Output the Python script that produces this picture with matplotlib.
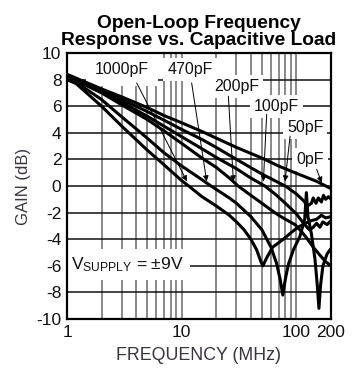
import matplotlib
matplotlib.use("Agg")
import matplotlib.pyplot as plt
from matplotlib.ticker import NullLocator

plt.rcParams["font.family"] = ["Liberation Sans", "DejaVu Sans"]
plt.rcParams["mathtext.fontset"] = "custom"
plt.rcParams["mathtext.rm"] = "Liberation Sans"
plt.rcParams["mathtext.it"] = "Liberation Sans:italic"
plt.rcParams["axes.unicode_minus"] = False

# gain curves (MHz, dB) for each load capacitance
freq_0pF = [1, 2, 3, 5, 7, 10, 15, 20, 30, 50, 70, 100, 150, 200]
gain_0pF = [8.4, 7.3, 6.7, 5.9, 5.3, 4.75, 4.1, 3.6, 2.9, 2.1, 1.5, 0.95, 0.35, -0.2]

freq_50pF = [1, 2, 3, 5, 7, 10, 15, 20, 30, 50, 70, 80, 100, 115, 125,
             135, 140, 148, 155, 165, 172, 180, 190, 200]
gain_50pF = [8.35, 7.2, 6.5, 5.6, 4.95, 4.25, 3.5, 2.9, 2.0, 0.9, 0.25, 0.0, -0.6, -1.1, -1.5,
             -1.3, -0.9, -1.3, -0.9, -1.2, -0.7, -1.0, -0.8, -1.0]

freq_100pF = [1, 2, 3, 5, 7, 10, 15, 20, 30, 40, 53, 65, 80, 100, 115,
              130, 140, 150, 160, 170, 185, 200]
gain_100pF = [8.3, 7.1, 6.3, 5.25, 4.5, 3.7, 2.8, 2.15, 1.3, 0.6, 0.0, -0.6, -1.3, -2.1, -2.8,
              -3.3, -3.1, -2.8, -3.1, -2.7, -2.9, -2.6]

freq_200pF = [1, 2, 3, 5, 7, 10, 15, 20, 26, 31, 40, 50, 60, 70, 80,
              97, 110, 125, 140, 160, 180, 200]
gain_200pF = [8.25, 7.0, 6.1, 5.0, 4.15, 3.2, 2.1, 1.4, 0.6, 0.0, -0.7, -1.3, -1.8, -2.2, -2.5,
              -2.9, -3.4, -4.0, -4.6, -5.2, -5.7, -6.0]

freq_470pF = [1, 1.2, 2, 3, 5, 7, 10, 14, 18, 26, 30, 40, 50, 60, 67, 72,
              76, 80, 85, 94, 107, 118, 122, 126, 135, 145, 152, 157, 162, 170, 185, 200]
gain_470pF = [8.0, 7.8, 6.5, 5.2, 3.6, 2.5, 1.5, 0.65, 0.0, -0.9, -1.3, -2.3, -3.3, -4.6, -5.8, -7.0,
              -8.2, -7.0, -5.9, -4.8, -3.8, -2.5, -0.5, -2.3, -3.6, -5.5, -7.5, -9.2, -7.5, -6.0, -5.1, -4.7]

freq_1000pF = [1, 1.2, 2, 3, 5, 7, 10, 11.5, 15, 20, 26, 30, 35, 40, 45, 49,
               51, 55, 62, 77, 90, 103, 120, 135, 150, 165, 180, 200]
gain_1000pF = [8.0, 7.7, 6.0, 4.5, 2.7, 1.6, 0.4, 0.0, -0.8, -1.5, -2.2, -2.7, -3.3, -4.0, -4.8, -5.7,
               -6.0, -5.4, -4.6, -4.0, -3.5, -3.1, -2.8, -2.6, -2.5, -2.2, -2.4, -2.3]

curves = [
    (freq_0pF, gain_0pF),
    (freq_50pF, gain_50pF),
    (freq_100pF, gain_100pF),
    (freq_200pF, gain_200pF),
    (freq_470pF, gain_470pF),
    (freq_1000pF, gain_1000pF),
]

load_labels = ["0pF", "50pF", "100pF", "200pF", "470pF", "1000pF"]
# where each label sits, where its leader starts and where the arrow lands
label_pos = [(131, 2.0), (119, 4.4), (67, 6.0), (30, 7.45), (11.8, 8.75), (3.0, 8.75)]
arrow_tail = [(150, 1.25), (88, 3.75), (55, 5.4), (25.5, 6.75), (12.2, 7.75), (4.05, 7.75)]
arrow_tip = [(166, 0.25), (79.5, 0.35), (51.5, 0.35), (28.2, 0.35), (16.5, 0.35), (11.1, 0.35)]

grid_freqs = [2, 3, 4, 5, 6, 7, 8, 9, 10, 20, 30, 40, 50, 60, 70, 80, 90, 100]
grid_gains = [-8, -6, -4, -2, 0, 2, 4, 6, 8]

fig = plt.figure(figsize=(3.6, 3.71), dpi=100)
ax = fig.add_axes([67 / 360, 1 - 319 / 371, 264 / 360, 266 / 371])

ax.set_xscale("log")
ax.set_xlim(1, 200)
ax.set_ylim(-10, 10)

for f in grid_freqs:
    ax.axvline(f, color="#6a6a6a", lw=1.1, zorder=1)
for g in grid_gains:
    ax.axhline(g, color="#111111", lw=1.1, zorder=1)

for freq, gain in curves:
    ax.plot(freq, gain, color="black", lw=2.2, zorder=4,
            solid_joinstyle="round", solid_capstyle="butt")

for text, pos, tail, tip in zip(load_labels, label_pos, arrow_tail, arrow_tip):
    pad = 0.55 if text == "1000pF" else 0.25
    ax.text(pos[0], pos[1], text, ha="center", va="center", fontsize=11.5,
            color="#111111", zorder=2,
            bbox=dict(boxstyle=f"square,pad={pad}", fc="white", ec="none"))
    ax.annotate("", xy=tip, xytext=tail,
                arrowprops=dict(arrowstyle="-|>", color="black", lw=0.7,
                                mutation_scale=8, shrinkA=0, shrinkB=0),
                zorder=3)

ax.text(1.09, -5.9, r"V$_{\mathrm{SUPPLY}}$ = ±9V", ha="left", va="center",
        fontsize=12.5, color="#111111",
        bbox=dict(boxstyle="square,pad=0.35", fc="white", ec="none"), zorder=2)

ax.set_xticks([1, 10, 100, 200])
ax.set_xticklabels(["1", "10", "100", "200"])
ax.xaxis.set_minor_locator(NullLocator())
ax.set_yticks(list(range(-10, 12, 2)))
ax.tick_params(length=0, labelsize=12.5, pad=4, colors="#111111")
for s in ax.spines.values():
    s.set_linewidth(1.6)
    s.set_zorder(5)

ax.set_xlabel("FREQUENCY (MHz)", fontsize=12.8, color="#3a3340", labelpad=5)
ax.set_ylabel("GAIN (dB)", fontsize=12, color="#3a3340", labelpad=4)
ax.set_title("Open-Loop Frequency\nResponse vs. Capacitive Load",
             fontsize=13.8, fontweight="bold", linespacing=1.0, pad=6)

fig.savefig("out.png", dpi=100)
